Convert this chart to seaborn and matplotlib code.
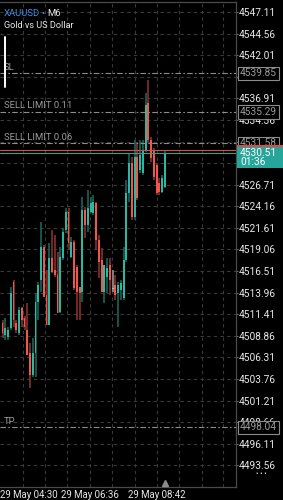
import matplotlib
matplotlib.use("Agg")
import matplotlib.pyplot as plt
import matplotlib.patches as mpatches
import matplotlib.transforms as mtransforms
from matplotlib.lines import Line2D
import numpy as np
import pandas as pd
import seaborn as sns

###############################################################################
# XAUUSD, M6 candles (oldest first).

opens = [4510.38, 4508.96, 4508.73, 4509.79, 4515.22, 4510.38, 4509.20, 4512.15,
         4510.97, 4509.55, 4506.84, 4504.24, 4506.84, 4512.86, 4515.46, 4519.36,
         4513.69, 4510.14, 4518.06, 4516.64, 4516.05, 4511.68, 4518.06, 4521.36,
         4523.49, 4518.18, 4519.95, 4516.99, 4514.63, 4514.04, 4523.73, 4521.95,
         4523.49, 4523.37, 4524.55, 4520.18, 4517.82, 4514.04, 4515.81, 4517.23,
         4514.40, 4514.87, 4513.92, 4514.28, 4513.33, 4517.82, 4525.73, 4529.28,
         4522.90, 4529.99, 4528.45, 4528.10, 4530.81, 4536.36, 4531.99, 4530.81,
         4529.04, 4526.91, 4525.85, 4526.44]
highs = [4510.74, 4510.97, 4509.91, 4514.63, 4515.46, 4510.74, 4512.27, 4512.27,
         4511.20, 4512.74, 4508.02, 4508.61, 4513.92, 4515.22, 4522.31, 4519.59,
         4516.64, 4519.83, 4521.36, 4520.77, 4518.77, 4519.36, 4521.60, 4523.96,
         4523.96, 4520.54, 4520.18, 4517.23, 4514.63, 4525.26, 4524.08, 4526.09,
         4525.26, 4525.50, 4524.67, 4520.77, 4519.24, 4517.23, 4518.06, 4518.06,
         4516.64, 4516.05, 4515.22, 4515.46, 4519.36, 4527.27, 4530.46, 4529.99,
         4531.99, 4531.76, 4531.99, 4531.99, 4537.54, 4539.08, 4532.35, 4531.05,
         4529.28, 4527.51, 4527.86, 4530.81]
lows = [4508.61, 4508.37, 4508.37, 4509.55, 4509.91, 4509.20, 4508.96, 4509.91,
        4509.55, 4506.60, 4502.70, 4504.00, 4504.00, 4510.74, 4514.04, 4513.45,
        4510.14, 4510.14, 4516.29, 4515.81, 4511.56, 4511.56, 4517.82, 4521.01,
        4519.00, 4518.06, 4514.28, 4510.74, 4510.74, 4512.86, 4520.42, 4521.13,
        4523.37, 4523.14, 4519.00, 4515.70, 4514.04, 4512.74, 4513.92, 4513.69,
        4514.04, 4513.10, 4509.91, 4513.10, 4513.10, 4517.58, 4524.67, 4522.55,
        4522.55, 4524.91, 4528.10, 4527.86, 4530.58, 4531.76, 4529.39, 4527.27,
        4525.50, 4525.50, 4525.73, 4526.32]
closes = [4509.20, 4509.79, 4509.55, 4513.92, 4510.74, 4509.55, 4511.92, 4510.74,
          4509.91, 4506.60, 4504.24, 4506.84, 4512.86, 4514.87, 4519.36, 4513.45,
          4510.14, 4518.06, 4516.40, 4516.05, 4511.56, 4518.18, 4521.13, 4523.49,
          4519.83, 4519.95, 4514.51, 4514.04, 4513.92, 4523.73, 4521.95, 4523.96,
          4524.55, 4524.67, 4520.18, 4517.58, 4514.04, 4517.23, 4516.88, 4515.46,
          4514.40, 4513.69, 4514.87, 4515.10, 4517.82, 4525.73, 4529.28, 4522.90,
          4529.99, 4525.14, 4530.20, 4530.81, 4536.13, 4531.99, 4529.87, 4527.62,
          4525.73, 4525.85, 4527.51, 4530.51]

price_ticks = [4547.11, 4544.56, 4542.01, 4539.46, 4536.91, 4534.36, 4531.81,
               4529.26, 4526.71, 4524.16, 4521.61, 4519.06, 4516.51, 4513.96,
               4511.41, 4508.86, 4506.31, 4503.76, 4501.21, 4498.66, 4496.11,
               4493.56]
grid_bars = [7.45, 15.45, 23.45, 31.8, 39.8, 48.2, 56.2, 64.2, 72.5, 80.2]
time_ticks = [7.45, 31.8, 56.2]
time_labels = ["29 May 04:30", "29 May 06:36", "29 May 08:42"]

order_names = ["SL", "SELL LIMIT 0.11", "SELL LIMIT 0.06", "TP"]
order_prices = [4539.85, 4535.29, 4531.58, 4498.04]

bid = 4530.51
ask = 4530.84
countdown = "01:36"

###############################################################################
# Plot settings.

sns.set_theme(style="dark", rc={
    "figure.facecolor": "black", "axes.facecolor": "black",
    "savefig.facecolor": "black", "axes.edgecolor": "#4a4a4a"})
plt.rcParams["font.family"] = ["Roboto", "DejaVu Sans"]

bull, bear, doji = "#2bb8a3", "#f0564c", "#b8b8b8"
bull_wick, bear_wick, doji_wick = "#145c52", "#7e2c28", "#8a8a8a"
grid_col = "#3a3a3a"
order_col = "#8c8c8c"

df = pd.DataFrame(dict(open=opens, high=highs, low=lows, close=closes))
df["bar"] = np.arange(len(df))
df["body_col"] = np.where(df.close > df.open, bull,
                          np.where(df.close < df.open, bear, doji))
df["wick_col"] = np.where(df.close > df.open, bull_wick,
                          np.where(df.close < df.open, bear_wick, doji_wick))

fig = plt.figure(figsize=(2.83, 5.0), dpi=100)
ax = fig.add_axes([0, 13 / 500, 236 / 283, 485 / 500])
ax.set_xlim(-0.91, 84.9)
ax.set_ylim(4491.01, 4548.29)

###############################################################################
# Grid.

for gx in grid_bars:
    ax.axvline(gx, color=grid_col, lw=0.8, ls=(0, (3, 3)), zorder=0)
for gy in price_ticks:
    ax.axhline(gy, color=grid_col, lw=0.8, ls=(0, (3, 3)), zorder=0)

###############################################################################
# Candles.

ax.vlines(df.bar, df.low, df.high, colors=df.wick_col, lw=1.3, zorder=2)
body = (df.close - df.open).abs().clip(lower=0.08)
ax.bar(df.bar, body, bottom=df[["open", "close"]].min(axis=1), width=0.72,
       color=df.body_col, linewidth=0, zorder=3)

###############################################################################
# Order lines and price boxes.

ytrans = ax.get_yaxis_transform()
for name, price in zip(order_names, order_prices):
    ax.axhline(price, color=order_col, lw=0.8, ls=(0, (5, 2, 1.5, 2)), zorder=4)
    ax.text(0.017, price + 0.2, name, transform=ytrans, ha="left",
            va="bottom", color="#9a9a9a", fontsize=6.8, zorder=4)
    ax.text(1.017, price, f"{price:.2f}", transform=ytrans, ha="left",
            va="center", color="#9a9a9a", fontsize=7.3, clip_on=False,
            zorder=5, bbox=dict(boxstyle="square,pad=0.18", fc="black",
                                ec=order_col, lw=0.8))

ax.axhline(ask, color="#e04a42", lw=0.8, zorder=4)
ax.axhline(bid, color="#26a69a", lw=0.8, zorder=4)

# ask box sits mostly behind the bid box, as in the app
ax.add_patch(mpatches.Rectangle((1.003, ask - 0.55), 0.2, 1.1, transform=ytrans,
                                fc="#e04a42", ec="none", clip_on=False,
                                zorder=6))
ax.add_patch(mpatches.Rectangle((1.003, bid - 1.85), 0.2, 2.55,
                                transform=ytrans, fc="#26a69a", ec="none",
                                clip_on=False, zorder=7))
ax.text(1.017, bid, f"{bid:.2f}", transform=ytrans, ha="left", va="center",
        color="white", fontsize=7.3, clip_on=False, zorder=8)
ax.text(1.017, bid - 1.12, countdown, transform=ytrans, ha="left",
        va="center", color="white", fontsize=7.3, clip_on=False, zorder=8)

###############################################################################
# Axes. Price labels fully hidden under a box are left blank.

def hidden(p):
    near_order = any(abs(p - o) < 0.5 for o in order_prices)
    return near_order or (bid - 1.9 < p < bid + 0.9)

ax.yaxis.tick_right()
ax.set_yticks(price_ticks,
              ["" if hidden(p) else f"{p:.2f}" for p in price_ticks])
ax.tick_params(axis="y", length=1.5, width=0.8, color="#6a6a6a", pad=0.6,
               labelsize=7.3, labelcolor="#e8e8e8")
ax.set_xticks(time_ticks, time_labels)
ax.tick_params(axis="x", length=0, pad=2, labelsize=6.9, labelcolor="#e8e8e8")
for side in ["top", "right", "bottom"]:
    ax.spines[side].set_visible(True)
    ax.spines[side].set_color("#4a4a4a")
    ax.spines[side].set_linewidth(0.9)
ax.spines["left"].set_visible(False)

first = ax.get_xticklabels()[0]
first.set_ha("left")
tick_px = ax.transData.transform((time_ticks[0], 0))[0] - \
    ax.transAxes.transform((0, 0))[0]
first.set_transform(first.get_transform() + mtransforms.ScaledTranslation(
    -(tick_px - 0.5) / fig.dpi, 0, fig.dpi_scale_trans))

# current bar marker
ax.plot(len(df) - 1, 0.008, marker="^", ms=4.5, color="#8c8c8c",
        transform=ax.get_xaxis_transform(), clip_on=False, zorder=6)

###############################################################################
# Header and decorations.

fig.text(4 / 283, 1 - 13 / 500, "XAUUSD", color="#3f8fe8", fontsize=6.8,
         va="center", ha="left")
fig.text(41 / 283, 1 - 13 / 500, "\u2022", color="#3f8fe8", fontsize=6.8,
         va="center", ha="left")
fig.text(47 / 283, 1 - 13 / 500, "M6", color="#e8e8e8", fontsize=6.8,
         va="center", ha="left")
fig.text(4 / 283, 1 - 25 / 500, "Gold vs US Dollar", color="#e8e8e8",
         fontsize=6.6, va="center", ha="left")
fig.add_artist(Line2D([5 / 283, 5 / 283], [1 - 37 / 500, 1 - 87 / 500],
                      color="white", lw=1.4))
fig.text(261 / 283, 1 - 475 / 500, "\u2022 \u2022 \u2022", color="#e8e8e8",
         fontsize=5, va="center", ha="center")

plt.savefig("out.png", dpi=100, facecolor="black")
plt.close()
